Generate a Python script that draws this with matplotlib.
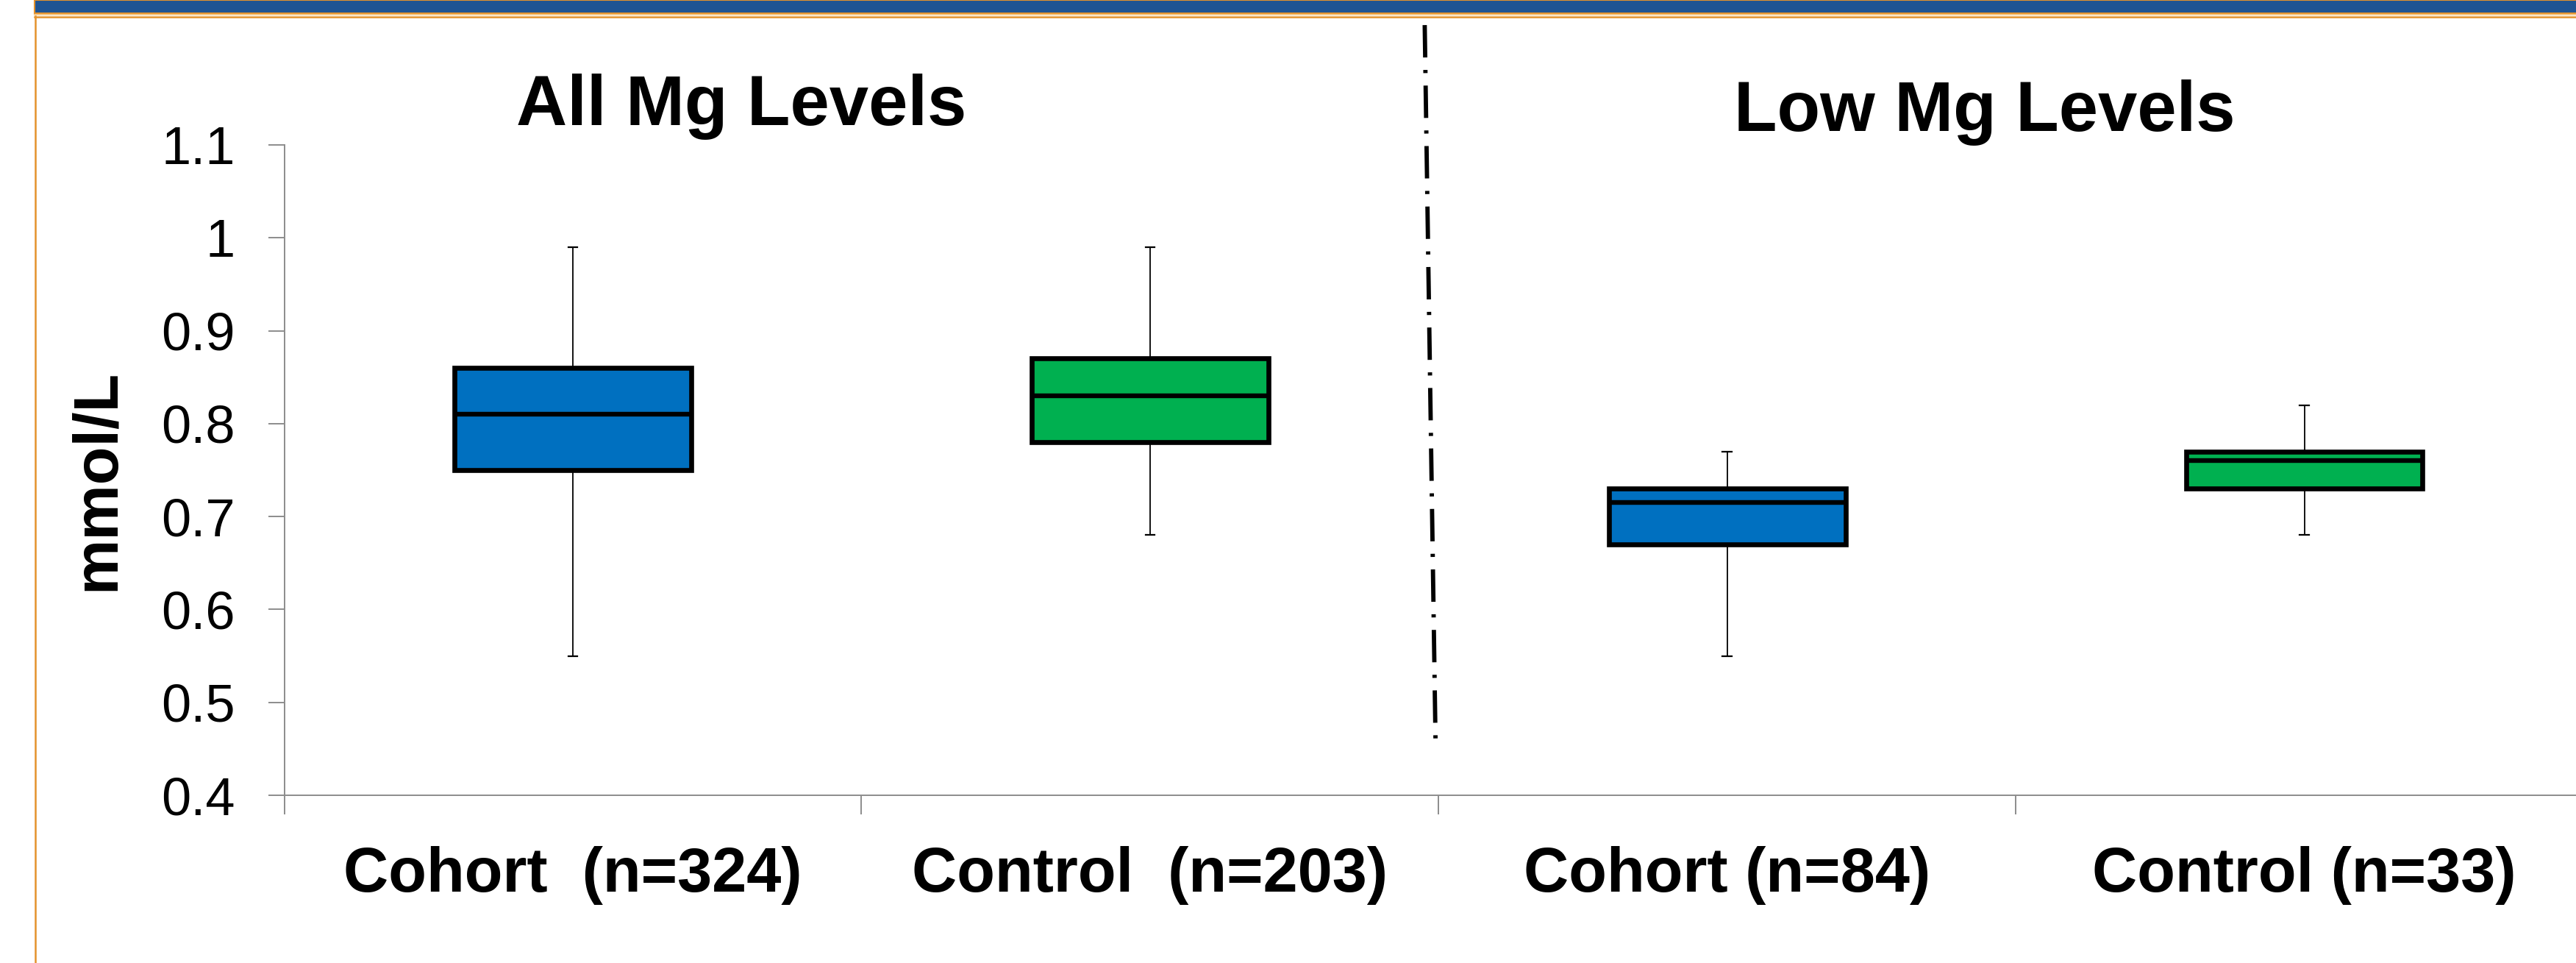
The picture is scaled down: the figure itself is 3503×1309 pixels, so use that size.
import matplotlib
matplotlib.use("Agg")
from matplotlib import pyplot as plt
from matplotlib.patches import Rectangle
from matplotlib.lines import Line2D

plt.rcParams['font.family'] = ['Liberation Sans', 'DejaVu Sans']
plt.rcParams['lines.scale_dashes'] = False

# serum Mg (mmol/L) box summaries
groups = ["Cohort  (n=324)", "Control  (n=203)", "Cohort (n=84)", "Control (n=33)"]
whisker_low = [0.55, 0.68, 0.55, 0.68]
q1 = [0.75, 0.78, 0.67, 0.73]
median = [0.81, 0.83, 0.715, 0.76]
q3 = [0.86, 0.87, 0.73, 0.77]
whisker_high = [0.99, 0.99, 0.77, 0.82]
box_colors = ["#0070C0", "#00B050", "#0070C0", "#00B050"]
panel_titles = ["All Mg Levels", "Low Mg Levels"]
y_ticks = [0.4, 0.5, 0.6, 0.7, 0.8, 0.9, 1.0, 1.1]

W, H = 3503, 1309
fig = plt.figure(figsize=(W / 100, H / 100), dpi=100)
ax = fig.add_axes([386.5 / W, 1 - 1081 / H, (3526 - 386.5) / W, (1081 - 197) / H])

stats = []
for i in range(len(groups)):
    stats.append({'med': median[i], 'q1': q1[i], 'q3': q3[i],
                  'whislo': whisker_low[i], 'whishi': whisker_high[i], 'fliers': []})
positions = list(range(1, len(groups) + 1))
bp = ax.bxp(stats, positions=positions, widths=0.41, patch_artist=True,
            showfliers=False, capwidths=0.016,
            boxprops=dict(linewidth=4.8, edgecolor='black'),
            medianprops=dict(color='black', linewidth=4.6, solid_capstyle='butt'),
            whiskerprops=dict(color='black', linewidth=1.3),
            capprops=dict(color='black', linewidth=1.6))
for patch, c in zip(bp['boxes'], box_colors):
    patch.set_facecolor(c)

ax.set_xlim(0.5, 4.5)
ax.set_ylim(0.4, 1.1)
ax.set_yticks(y_ticks)
ax.set_yticklabels(['%g' % v for v in y_ticks])
ax.set_xticks(positions)
ax.set_xticklabels(groups, fontsize=61, fontweight='bold')
ax.set_xticks([p - 0.5 for p in positions] + [4.5], minor=True)
ax.tick_params(axis='x', which='major', length=0, pad=50)
ax.tick_params(axis='x', which='minor', length=19, width=1.4, color='#8c8c8c')
ax.tick_params(axis='y', length=16, width=1.4, color='#8c8c8c', labelsize=52, pad=32)
for s in ['top', 'right']:
    ax.spines[s].set_visible(False)
for s in ['left', 'bottom']:
    ax.spines[s].set_color('#8c8c8c')
    ax.spines[s].set_linewidth(1.4)

ax.set_ylabel('mmol/L', fontsize=61, fontweight='bold')
ax.yaxis.set_label_coords(-0.068, 0.485)

# panel headings
ax.text(1.292, 1.121, panel_titles[0], ha='center', va='baseline',
        fontsize=69, fontweight='bold', clip_on=False)
ax.text(3.446, 1.115, panel_titles[1], ha='center', va='baseline',
        fontsize=69, fontweight='bold', clip_on=False)

# dash-dot divider between the two panels
ax.plot([2.476, 2.495], [1.229, 0.448], color='black', lw=4.2,
        linestyle=(0, (31.7, 12.2, 3.1, 12.2)), clip_on=False)

# slide frame: blue banner with orange border lines
orange = '#E4922C'
fig.add_artist(Rectangle((47 / W, 1 - 18 / H), 1, 18 / H, transform=fig.transFigure,
                         facecolor='#1F5493', edgecolor=orange, linewidth=1.5))
fig.add_artist(Line2D([47 / W, 1], [1 - 20 / H, 1 - 20 / H], transform=fig.transFigure,
                      color='#F6CD92', linewidth=1.5))
fig.add_artist(Line2D([47 / W, 1], [1 - 22.5 / H, 1 - 22.5 / H], transform=fig.transFigure,
                      color=orange, linewidth=1.8))
fig.add_artist(Line2D([48 / W, 48 / W], [0, 1 - 22 / H], transform=fig.transFigure,
                      color=orange, linewidth=1.8))

fig.savefig('out.png', dpi=100)
